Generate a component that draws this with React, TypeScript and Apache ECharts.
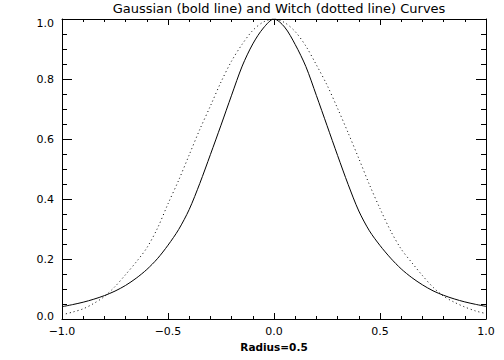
import React, { useEffect, useRef } from "react";
import * as echarts from "echarts";

const xValues: number[] = [
  -1.0, -0.95, -0.9, -0.85, -0.8, -0.75, -0.7, -0.65, -0.6, -0.55, -0.5,
  -0.45, -0.4, -0.35, -0.3, -0.25, -0.2, -0.15, -0.1, -0.05, 0.0,
  0.05, 0.1, 0.15, 0.2, 0.25, 0.3, 0.35, 0.4, 0.45, 0.5,
  0.55, 0.6, 0.65, 0.7, 0.75, 0.8, 0.85, 0.9, 0.95, 1.0,
];

// bold (solid) curve
const solidValues: number[] = [
  0.041, 0.048, 0.056, 0.066, 0.078, 0.093, 0.112, 0.136, 0.165, 0.201, 0.246,
  0.298, 0.365, 0.452, 0.548, 0.646, 0.746, 0.843, 0.917, 0.97, 1.0,
  0.973, 0.915, 0.842, 0.745, 0.645, 0.545, 0.448, 0.36, 0.294, 0.245,
  0.203, 0.167, 0.138, 0.114, 0.094, 0.079, 0.067, 0.057, 0.049, 0.042,
];

// dotted curve
const dottedValues: number[] = [
  0.014, 0.023, 0.034, 0.052, 0.075, 0.108, 0.148, 0.19, 0.237, 0.302, 0.384,
  0.462, 0.547, 0.632, 0.71, 0.79, 0.86, 0.916, 0.962, 0.99, 1.0,
  0.988, 0.958, 0.91, 0.847, 0.78, 0.702, 0.62, 0.535, 0.448, 0.368,
  0.294, 0.233, 0.188, 0.145, 0.106, 0.076, 0.056, 0.04, 0.027, 0.018,
];

const titleText = "Gaussian (bold line) and Witch (dotted line) Curves";
const xAxisName = "Radius=0.5";

const FONT = "DejaVu Sans";

export default function App() {
  const ref = useRef<HTMLDivElement>(null);
  useEffect(() => {
    if (!ref.current) return;
    const chart = echarts.init(ref.current, null, { renderer: "svg" });
    const solid = xValues.map((x, i) => [x, solidValues[i]]);
    const dotted = xValues.map((x, i) => [x, dottedValues[i]]);
    const fmt = (v: number) => v.toFixed(1).replace("-", "\u2212");
    const axisLine = { show: true, onZero: false, lineStyle: { color: "#000", width: 1 } };
    const xTick = { show: true, inside: true, length: 6, lineStyle: { color: "#000" } };
    const xMinor = { show: true, splitNumber: 5, length: 3, lineStyle: { color: "#000" } };
    const yTick = { show: true, inside: true, length: 10, lineStyle: { color: "#000" } };
    const yMinor = { show: true, splitNumber: 4, length: 5, lineStyle: { color: "#000" } };
    chart.setOption({
      animation: false,
      backgroundColor: "#fff",
      title: {
        text: titleText,
        left: 274,
        textAlign: "center",
        top: -3,
        textStyle: { fontFamily: FONT, fontSize: 13, fontWeight: "normal", color: "#000" },
      },
      grid: { left: 62, right: 18, top: 19, bottom: 41, containLabel: false },
      xAxis: [
        {
          type: "value",
          position: "bottom",
          min: -1,
          max: 1,
          interval: 0.5,
          axisLine,
          axisTick: xTick,
          minorTick: xMinor,
          splitLine: { show: false },
          minorSplitLine: { show: false },
          axisLabel: {
            formatter: fmt,
            margin: 7,
            color: "#000",
            fontFamily: FONT,
            fontSize: 11,
          },
          name: xAxisName,
          nameLocation: "middle",
          nameGap: 22,
          nameTextStyle: {
            fontFamily: FONT,
            fontSize: 10.5,
            fontWeight: "bold",
            color: "#000",
            verticalAlign: "top",
          },
        },
        {
          type: "value",
          position: "top",
          min: -1,
          max: 1,
          interval: 0.5,
          axisLine,
          axisTick: xTick,
          minorTick: xMinor,
          splitLine: { show: false },
          axisLabel: { show: false },
        },
      ],
      yAxis: [
        {
          type: "value",
          position: "left",
          min: 0,
          max: 1,
          interval: 0.2,
          axisLine,
          axisTick: yTick,
          minorTick: yMinor,
          splitLine: { show: false },
          minorSplitLine: { show: false },
          axisLabel: {
            formatter: (v: number) => {
              const s = fmt(v);
              if (v >= 1) return "{top|" + s + "}";
              if (v <= 0) return "{bot|" + s + "}";
              return s;
            },
            margin: 8,
            color: "#000",
            fontFamily: FONT,
            fontSize: 11,
            rich: {
              top: { fontFamily: FONT, fontSize: 11, color: "#000", padding: [8, 0, 0, 0] },
              bot: { fontFamily: FONT, fontSize: 11, color: "#000", padding: [0, 0, 6, 0] },
            },
          },
        },
        {
          type: "value",
          position: "right",
          min: 0,
          max: 1,
          interval: 0.2,
          axisLine,
          axisTick: yTick,
          minorTick: yMinor,
          splitLine: { show: false },
          axisLabel: { show: false },
        },
      ],
      series: [
        {
          name: "bold",
          type: "line",
          xAxisIndex: 0,
          yAxisIndex: 0,
          data: solid,
          showSymbol: false,
          smooth: 0.3,
          lineStyle: { color: "#000", width: 1 },
        },
        {
          name: "dotted",
          type: "line",
          xAxisIndex: 0,
          yAxisIndex: 0,
          data: dotted,
          showSymbol: false,
          smooth: 0.3,
          lineStyle: { color: "#000", width: 1, type: [1, 3] },
        },
      ],
    });
    return () => chart.dispose();
  }, []);
  return (
    <div
      ref={ref}
      style={{ position: "fixed", left: 0, top: 0, width: 504, height: 360, background: "#fff" }}
    />
  );
}
